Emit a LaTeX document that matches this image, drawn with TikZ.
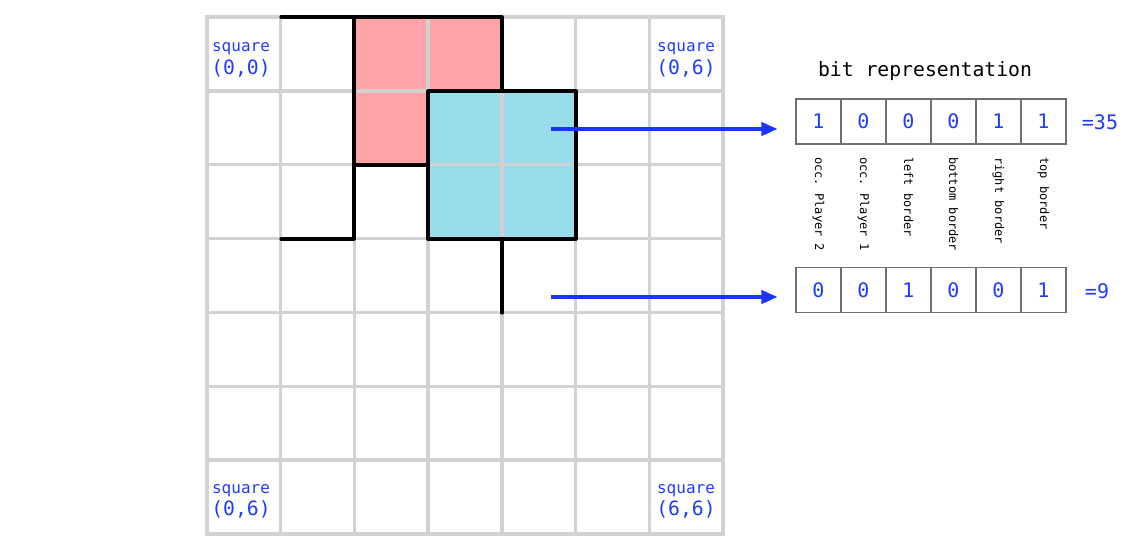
\documentclass[tikz,border=0pt]{standalone}
\usepackage{fontspec}
\setmonofont{DejaVu Sans Mono}
\usetikzlibrary{arrows.meta}
\definecolor{gridgray}{HTML}{D2D2D2}
\definecolor{pinkc}{HTML}{FFA3A8}
\definecolor{bluec}{HTML}{99DDED}
\definecolor{txtblue}{HTML}{1F3DFF}
\definecolor{arrblue}{HTML}{1A33FF}
\definecolor{boxgray}{HTML}{707070}
\tikzset{
  gridline/.style={draw=gridgray, line width=2.6pt, line cap=rect},
  border/.style={draw=black, line width=2.4pt, line join=round, line cap=round},
  bitbox/.style={draw=boxgray, line width=0.8pt, minimum width=33.75pt, minimum height=33.75pt, inner sep=0pt, font=\ttfamily\fontsize{15}{17}\selectfont, text=txtblue},
  sqlabel/.style={align=center, text=txtblue, inner sep=0pt, anchor=base, font=\ttfamily\fontsize{14.8}{16.7}\selectfont},
  bitlabel/.style={rotate=-90, anchor=west, inner sep=0pt, font=\ttfamily\fontsize{9}{10}\selectfont},
  valuelabel/.style={text=txtblue, font=\ttfamily\fontsize{15}{17}\selectfont, inner sep=0pt},
  bitarrow/.style={draw=arrblue, line width=2.4pt, -{Triangle[length=12pt,width=10pt]}}
}
\newcommand{\sqtext}[1]{{\fontsize{12}{16.7}\selectfont square}\\#1}
\begin{document}
\begin{tikzpicture}[x=0.75pt,y=-0.75pt]
\useasboundingbox[fill=white] (0,0) rectangle (1124,547);
% fills
\fill[pinkc] (354,17) rectangle (502,91);
\fill[pinkc] (354,91) rectangle (428,165);
\fill[bluec] (428,91) rectangle (576,239);
% grid
\foreach \i in {0,...,7}{
  \draw[gridline] ({207+73.714*\i},17) -- ({207+73.714*\i},534);
  \draw[gridline] (207,{17+73.857*\i}) -- (723,{17+73.857*\i});
}
% borders
\draw[border] (281,17) -- (502,17) -- (502,91);
\draw[border] (428,91) rectangle (576,239);
\draw[border] (354,17) -- (354,239) -- (281,239);
\draw[border] (354,165) -- (428,165);
\draw[border] (502,239) -- (502,313);
% square labels
\node[sqlabel] (s00) at (241,74) {\sqtext{(0,0)}};
\node[sqlabel] (s06) at (686,74) {\sqtext{(0,6)}};
\node[sqlabel] (s60) at (241,515.6) {\sqtext{(0,6)}};
\node[sqlabel] (s66) at (686,515.6) {\sqtext{(6,6)}};
% title
\node[font=\ttfamily\fontsize{14.8}{17}\selectfont, inner sep=0pt] (title) at (925,71) {bit representation};
% bit boxes
\foreach \b [count=\k] in {1,0,0,0,1,1}{
  \node[bitbox] (a\k) at ({773.5+45*\k},121.5) {\b};
}
\foreach \b [count=\k] in {0,0,1,0,0,1}{
  \node[bitbox] (b\k) at ({773.5+45*\k},290) {\b};
}
\node[valuelabel] (v1) at (1100,122) {=35};
\node[valuelabel] (v2) at (1097,291) {=9};
% bit labels
\foreach \t [count=\k] in {occ. Player 2,occ. Player 1,left border,bottom border,right border,top border}{
  \node[bitlabel] (l\k) at ({773.5+45*\k},157) {\t};
}
% arrows
\coordinate (p1) at (551,129);
\coordinate (p2) at (551,297);
\draw[bitarrow] (p1) -- ([xshift=-13.5pt]a1.west |- p1);
\draw[bitarrow] (p2) -- ([xshift=-13.5pt]b1.west |- p2);
\end{tikzpicture}
\end{document}
